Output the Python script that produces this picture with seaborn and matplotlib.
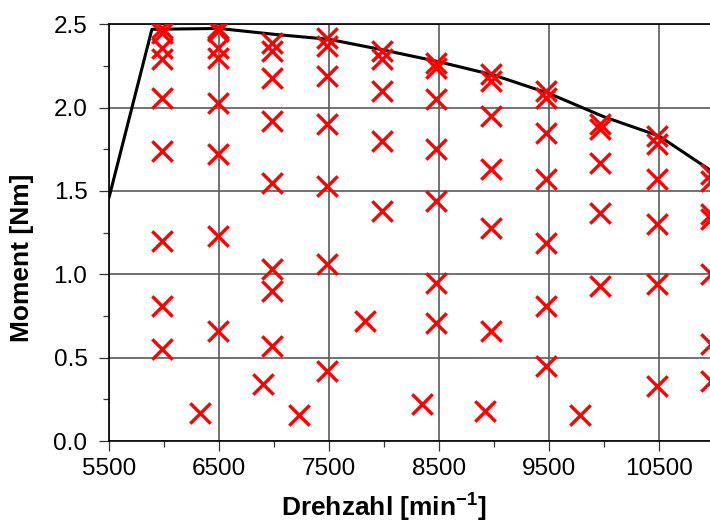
import matplotlib
matplotlib.use("Agg")
import matplotlib.pyplot as plt
import seaborn as sns
import pandas as pd
from matplotlib.ticker import MultipleLocator, FixedLocator

# --- data ---------------------------------------------------------------
speed_pts = [
    5985, 5985, 5985, 5985, 5985, 5985, 5985, 5985, 5985,
    6495, 6495, 6495, 6495, 6495, 6495, 6495, 6495,
    6980, 6980, 6980, 6980, 6980, 6980, 6980, 6980,
    7480, 7480, 7480, 7480, 7480, 7480, 7480,
    7980, 7980, 7980, 7980, 7980,
    8475, 8475, 8475, 8475, 8475, 8475, 8475,
    8970, 8970, 8970, 8970, 8970, 8970,
    9470, 9470, 9470, 9470, 9470, 9470, 9470,
    9965, 9965, 9965, 9965, 9965,
    10480, 10480, 10480, 10480, 10480, 10480,
    10975, 10975, 10975, 10975, 10975, 10975, 10975,
    6330, 6900, 7230, 7830, 8345, 8920, 9780,
]
torque_pts = [
    2.48, 2.45, 2.36, 2.29, 2.06, 1.74, 1.20, 0.81, 0.55,
    2.48, 2.46, 2.36, 2.30, 2.03, 1.72, 1.23, 0.66,
    2.39, 2.34, 2.18, 1.92, 1.55, 1.03, 0.90, 0.57,
    2.42, 2.37, 2.19, 1.90, 1.53, 1.06, 0.42,
    2.34, 2.29, 2.10, 1.80, 1.38,
    2.27, 2.24, 2.05, 1.75, 1.44, 0.95, 0.71,
    2.20, 2.16, 1.95, 1.63, 1.28, 0.66,
    2.10, 2.06, 1.85, 1.57, 1.19, 0.81, 0.45,
    1.90, 1.87, 1.67, 1.37, 0.93,
    1.83, 1.78, 1.57, 1.30, 0.94, 0.33,
    1.60, 1.56, 1.36, 1.33, 1.00, 0.58, 0.36,
    0.17, 0.34, 0.155, 0.72, 0.22, 0.18, 0.155,
]
curve_speed = [5500, 5890, 6500, 7000, 7500, 8000, 8500, 9000, 9500, 10000, 10500, 11000]
curve_torque = [1.46, 2.47, 2.475, 2.44, 2.41, 2.345, 2.275, 2.195, 2.085, 1.945, 1.83, 1.61]

x_ticks = [5500, 6500, 7500, 8500, 9500, 10500]
y_ticks = [0.0, 0.5, 1.0, 1.5, 2.0, 2.5]
x_label = "Drehzahl [min$^{\\mathbf{-1}}$]"
y_label = "Moment [Nm]"

# --- style --------------------------------------------------------------
sns.set_style("ticks")
plt.rcParams["font.family"] = ["Liberation Sans", "DejaVu Sans"]
plt.rcParams["mathtext.fontset"] = "custom"
plt.rcParams["mathtext.rm"] = "Liberation Sans"
plt.rcParams["mathtext.bf"] = "Liberation Sans:bold"
plt.rcParams["text.color"] = "black"
plt.rcParams["axes.labelcolor"] = "black"
plt.rcParams["xtick.color"] = "black"
plt.rcParams["ytick.color"] = "black"

fig = plt.figure(figsize=(7.10, 5.23), dpi=100)
ax = fig.add_axes([109 / 710, 1 - 441 / 523, 605 / 710, (441 - 24.3) / 523])

pts = pd.DataFrame({"speed": speed_pts, "torque": torque_pts})
curve = pd.DataFrame({"speed": curve_speed, "torque": curve_torque})

sns.lineplot(data=curve, x="speed", y="torque", ax=ax, color="black",
             linewidth=2.2, sort=False, zorder=3)
sns.scatterplot(data=pts, x="speed", y="torque", ax=ax, marker="x",
                color="#ff0000", s=215, linewidth=2.4, zorder=4)

ax.set_xlim(5500, 11000)
ax.set_ylim(0, 2.5)
ax.xaxis.set_major_locator(FixedLocator(x_ticks))
ax.xaxis.set_minor_locator(MultipleLocator(500))
ax.yaxis.set_major_locator(FixedLocator(y_ticks))
ax.yaxis.set_minor_locator(MultipleLocator(0.25))
ax.set_xticklabels([str(v) for v in x_ticks])
ax.set_yticklabels([f"{v:.1f}" for v in y_ticks])

ax.grid(True, which="major", color="#5a5a5a", linewidth=1.2)
ax.set_axisbelow(True)
for s in ax.spines.values():
    s.set_color("black")
    s.set_linewidth(1.2)

ax.tick_params(axis="both", which="major", direction="out", length=7.5,
               width=0.9, color="#333333", labelcolor="black",
               labelsize=17.5, pad=5)
ax.tick_params(axis="y", which="major", pad=8)
ax.tick_params(axis="both", which="minor", direction="out", length=4.5,
               width=0.9, color="#333333")

ax.set_xlabel(x_label, fontsize=19, fontweight="bold", color="black")
ax.set_ylabel(y_label, fontsize=19, fontweight="bold", color="black")
ax.xaxis.label.set_va("center")
ax.yaxis.label.set_va("center")
ax.xaxis.set_label_coords((384 - 109) / 605, (441 - 507) / 416.7)
ax.yaxis.set_label_coords((22 - 109) / 605, (441 - 258) / 416.7)

fig.savefig("out.png", dpi=100)
